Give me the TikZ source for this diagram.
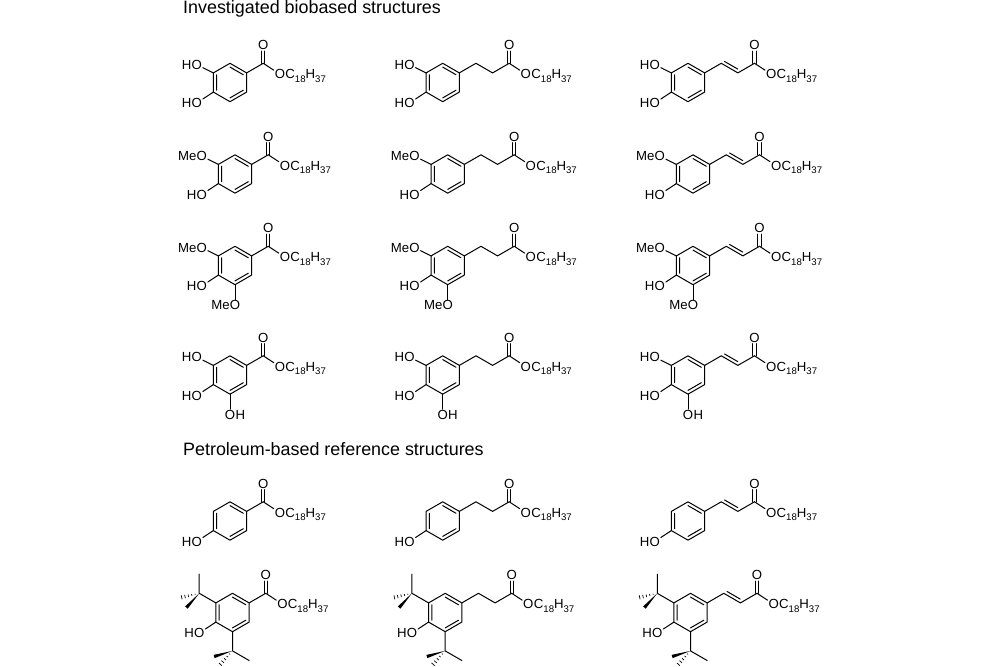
\documentclass[tikz,border=0pt]{standalone}
\usepackage{fontspec}
\setmainfont{Liberation Sans}
\usetikzlibrary{calc}

\def\bl{19.2}
\newcommand{\subn}[1]{\raisebox{-.28em}{\fontsize{9.6}{10}\selectfont #1}}
\tikzset{
  bond/.style={line width=1pt,line join=round,line cap=round},
  atom/.style={inner sep=0.8pt,font=\fontsize{13.2}{15}\selectfont},
  tailgroup/.style={inner sep=0pt,font=\fontsize{13.2}{15}\selectfont},
  heading/.style={inner sep=0pt,anchor=base west,font=\fontsize{17.9}{20}\selectfont},
}

% ring with its three inner lines
\newcommand{\ringat}[3]{
  \coordinate (#1c) at ($(#2,#3)$);
  \foreach \i/\a in {1/90,2/30,3/-30,4/-90,5/-150,6/150}{
    \coordinate (#1a\i) at ($(#1c)+(\a:\bl)$);
    \coordinate (#1b\i) at ($(#1c)+(\a:15.4)$);
  }
  \draw[bond] (#1a1) -- (#1a2) -- (#1a3) -- (#1a4) -- (#1a5) -- (#1a6) -- cycle;
  \draw[bond] (#1b1) -- (#1b2) (#1b3) -- (#1b4) (#1b5) -- (#1b6);
}
% oxygen on a bond
\newcommand{\oxygen}[3]{
  \node[atom] (#1) at ($(#2)+(#3:\bl)+(0,-1.3)$) {O};
  \draw[bond] (#2) -- (#1);
}
\newcommand{\leftpart}[2]{\node[tailgroup,anchor=base east,xshift=1pt] (#1t) at (#1.base west) {#2};}
\newcommand{\rightpart}[2]{\node[tailgroup,anchor=base west,xshift=-.8pt] (#1t) at (#1.base east) {#2};}
% carbonyl plus chain label
\newcommand{\ester}[1]{
  \node[atom] (#1ox) at ($(#1k)+(90:\bl)+(0,-1.3)$) {O};
  \draw[bond,transform canvas={xshift=-1.6pt}] (#1k) -- (#1ox);
  \draw[bond,transform canvas={xshift=1.6pt}] (#1k) -- (#1ox);
  \oxygen{#1oe}{#1k}{-30}
  \rightpart{#1oe}{C\subn{18}H\subn{37}}
}
\newcommand{\linkerbenzoate}[1]{
  \coordinate (#1k) at ($(#1a2)+(30:\bl)$);
  \draw[bond] (#1a2) -- (#1k);
  \ester{#1}
}
\newcommand{\linkerpropanoate}[1]{
  \coordinate (#1l) at ($(#1a2)+(30:\bl)$);
  \coordinate (#1m) at ($(#1l)+(-30:\bl)$);
  \coordinate (#1k) at ($(#1m)+(30:\bl)$);
  \draw[bond] (#1a2) -- (#1l) -- (#1m) -- (#1k);
  \ester{#1}
}
\newcommand{\linkercinnamate}[1]{
  \linkerpropanoate{#1}
  \draw[bond,shorten <=2pt,shorten >=2pt,transform canvas={xshift=1.6pt,yshift=2.8pt}] (#1l) -- (#1m);
}
% tert-butyl: vertex, direction, plain, wedge and hashed angles
\newcommand{\tbutyl}[6]{
  \coordinate (#1q) at ($(#2)+(#3:\bl)$);
  \coordinate (#1p) at ($(#1q)+(#4:\bl)$);
  \coordinate (#1w) at ($(#1q)+(#5:\bl)$);
  \coordinate (#1h) at ($(#1q)+(#6:\bl)$);
  \draw[bond] (#2) -- (#1q) -- (#1p);
  \fill (#1q) -- ($(#1w)!1.7pt!90:(#1q)$) -- ($(#1w)!1.7pt!-90:(#1q)$) -- cycle;
  \foreach \t/\w in {.22/.5,.4/.9,.58/1.3,.76/1.7,.94/2.1}
    \draw[line width=0.7pt] ($(#1q)!\t!(#1h)!\w pt!90:(#1h)$) -- ($(#1q)!\t!(#1h)!\w pt!-90:(#1h)$);
}

\newcommand{\substcatechol}[1]{
  \oxygen{#1o6}{#1a6}{150} \leftpart{#1o6}{H}
  \oxygen{#1o5}{#1a5}{-150} \leftpart{#1o5}{H}
}
\newcommand{\substguaiacyl}[1]{
  \oxygen{#1o6}{#1a6}{150} \leftpart{#1o6}{Me}
  \oxygen{#1o5}{#1a5}{-150} \leftpart{#1o5}{H}
}
\newcommand{\substsyringyl}[1]{
  \substguaiacyl{#1}
  \oxygen{#1o4}{#1a4}{-90} \leftpart{#1o4}{Me}
}
\newcommand{\substgallate}[1]{
  \substcatechol{#1}
  \oxygen{#1o4}{#1a4}{-90} \rightpart{#1o4}{H}
}
\newcommand{\substphenol}[1]{
  \oxygen{#1o5}{#1a5}{-150} \leftpart{#1o5}{H}
}
\newcommand{\substhindered}[1]{
  \substphenol{#1}
  \tbutyl{#1s}{#1a6}{150}{90}{228}{193}
  \tbutyl{#1u}{#1a4}{-90}{-30}{197}{228}
}

\begin{document}
\begin{tikzpicture}[x=1pt,y=1pt]
\useasboundingbox (0,0) rectangle (1000,666);

\node[heading] (titlebio) at (183,652.6) {Investigated biobased structures};
\node[heading] (titlepet) at (183,210) {Petroleum-based reference structures};

% rows of the table, then its three columns
\foreach \rw/\xr/\yr/\subs in {a/230/583.5/catechol,b/235/492/guaiacyl,c/235/400.5/syringyl,
    d/230/291/gallate,e/230/145/phenol,f/232.5/53.5/hindered}{
  \foreach \cl/\dx/\kind in {1/0/benzoate,2/212.7/propanoate,3/458/cinnamate}{
    \pgfmathsetmacro{\xm}{\xr+\dx}
    \ringat{m\rw\cl}{\xm}{\yr}
    \csname linker\kind\endcsname{m\rw\cl}
    \csname subst\subs\endcsname{m\rw\cl}
  }
}

\end{tikzpicture}
\end{document}
